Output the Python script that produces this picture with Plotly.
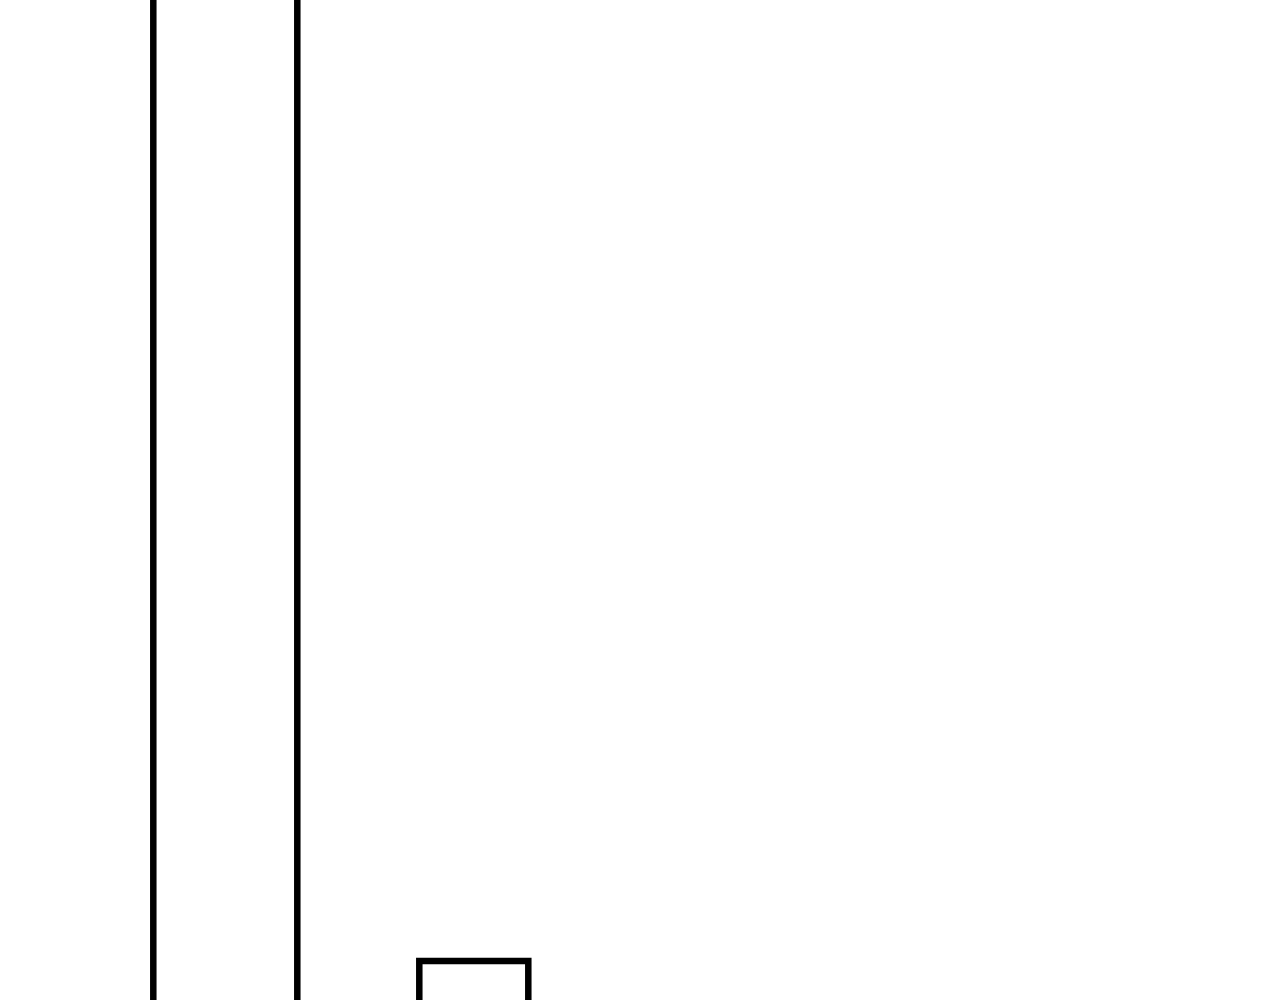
import plotly.graph_objects as go

# (x in axis units, y values)
bin_left = [153.3, 419.3]
bin_right = [297.3, 528.3]
values = [150.0, 4.4]

centers = [(a + b) / 2 for a, b in zip(bin_left, bin_right)]
widths = [b - a for a, b in zip(bin_left, bin_right)]

fig = go.Figure(
    go.Bar(
        x=centers,
        y=values,
        width=widths,
        marker=dict(color="white", line=dict(color="black", width=6.5)),
        showlegend=False,
        hoverinfo="skip",
    )
)

fig.update_layout(
    width=1280,
    height=1000,
    margin=dict(l=0, r=0, t=0, b=0, pad=0),
    paper_bgcolor="white",
    plot_bgcolor="white",
    bargap=0,
)
fig.update_xaxes(range=[0, 1280], visible=False, showgrid=False, zeroline=False)
fig.update_yaxes(range=[0.5, 100.5], visible=False, showgrid=False, zeroline=False)

fig.write_html(
    "out.html",
    config={"displayModeBar": False, "staticPlot": True},
    post_script="document.body.style.margin='0';document.body.style.overflow='hidden';",
)
